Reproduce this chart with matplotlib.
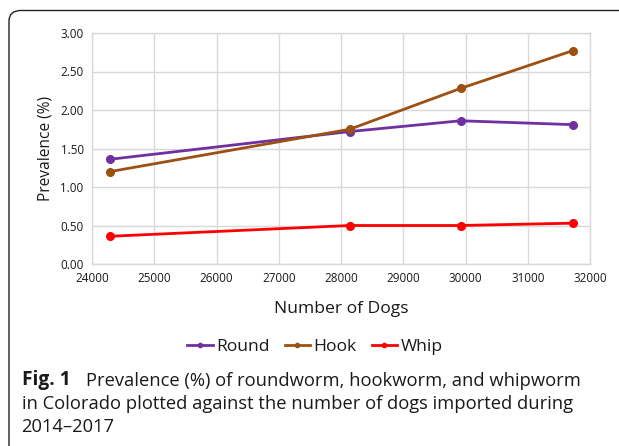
import matplotlib
matplotlib.use("Agg")
import matplotlib.pyplot as plt
from matplotlib.path import Path
from matplotlib.patches import PathPatch
from matplotlib.lines import Line2D

dogs = [24290, 28140, 29920, 31720]
round_vals = [1.36, 1.72, 1.86, 1.81]
hook_vals = [1.20, 1.75, 2.28, 2.77]
whip_vals = [0.36, 0.50, 0.50, 0.53]
series_names = ["Round", "Hook", "Whip"]
colors = ["#7030A0", "#9C5012", "#FF0000"]
xticks = list(range(24000, 32001, 1000))
yticks = [0, 0.5, 1.0, 1.5, 2.0, 2.5, 3.0]

W, H = 619, 446
plt.rcParams['font.family'] = ['Open Sans', 'DejaVu Sans']
TXT = "#1a1a1a"
fig = plt.figure(figsize=(W / 100, H / 100), dpi=100)

# axes in pixel positions
L, R, T, B = 92, 590, 33, 264
ax = fig.add_axes([L / W, 1 - B / H, (R - L) / W, (B - T) / H])

for vals, c, n in zip([round_vals, hook_vals, whip_vals], colors, series_names):
    ax.plot(dogs, vals, color=c, lw=2.0, marker='o', markersize=5.5, label=n,
            solid_capstyle='round', zorder=3)

ax.set_xlim(24000, 32000)
ax.set_ylim(0, 3.0)
ax.set_xticks(xticks)
ax.set_yticks(yticks)
ax.set_yticklabels([f"{v:.2f}" for v in yticks])
ax.grid(True, color="#D9D9D9", lw=1.0)
ax.set_axisbelow(True)
for s in ax.spines.values():
    s.set_color("#D9D9D9")
    s.set_linewidth(1.0)
ax.tick_params(length=0, labelsize=8.4, colors=TXT, pad=6)
ax.set_ylabel("Prevalence (%)", fontsize=11.2, labelpad=5, color=TXT)
ax.set_xlabel("Number of Dogs", fontsize=12.6, labelpad=11, color=TXT)

handles = [Line2D([0], [0], color=c, lw=2.0, marker='o', markersize=3) for c in colors]
fig.legend(handles, series_names, loc='center', bbox_to_anchor=(315 / W, 1 - 347 / H),
           ncol=3, frameon=False, handlelength=1.45, handletextpad=0.2,
           columnspacing=0.85, prop={'size': 12.6}, labelcolor=TXT)

caption_lines = [
    "Prevalence (%) of roundworm, hookworm, and whipworm",
    "in Colorado plotted against the number of dogs imported during",
    "2014\u20132017",
]
CS = 13.2
fig.text(21.5 / W, 1 - 380.5 / H, "Fig. 1", fontsize=13.8, fontweight='bold',
         va='center', ha='left', color=TXT)
fig.text(86 / W, 1 - 380.5 / H, caption_lines[0], fontsize=CS, va='center', ha='left', color=TXT)
fig.text(21.5 / W, 1 - 404 / H, caption_lines[1], fontsize=CS, va='center', ha='left', color=TXT)
fig.text(21.5 / W, 1 - 427.5 / H, caption_lines[2], fontsize=CS, va='center', ha='left', color=TXT)

# rounded border, top-left corner
verts = [(9 / W, -0.01), (9 / W, 1 - 21 / H), (9 / W, 1 - 10.5 / H), (21 / W, 1 - 10.5 / H),
         (1.01, 1 - 10.5 / H)]
codes = [Path.MOVETO, Path.LINETO, Path.CURVE3, Path.CURVE3, Path.LINETO]
fig.patches.append(PathPatch(Path(verts, codes), transform=fig.transFigure, fill=False,
                             edgecolor="#222222", lw=1.0))

fig.savefig("out.png", dpi=100)
